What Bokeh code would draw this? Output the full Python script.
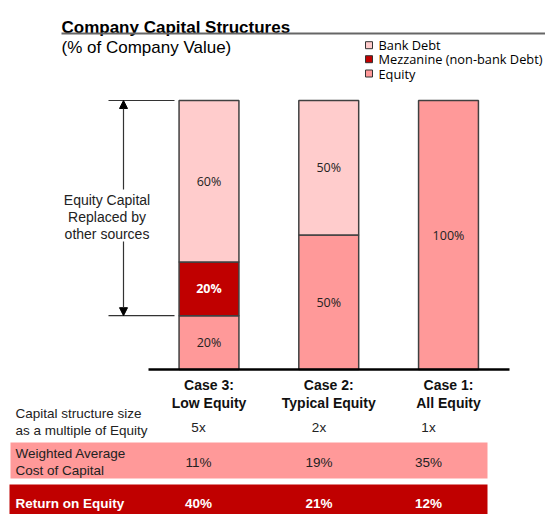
from bokeh.plotting import figure
from bokeh.models import Range1d, Arrow, NormalHead
from bokeh.core.properties import value
from bokeh.embed import file_html
from bokeh.resources import INLINE

# ---------------- data ----------------
cases = ["Case 3:\nLow Equity", "Case 2:\nTypical Equity", "Case 1:\nAll Equity"]
equity = [20, 50, 100]
mezzanine = [20, 0, 0]
bank_debt = [60, 50, 0]
series_names = ["Bank Debt", "Mezzanine (non-bank Debt)", "Equity"]
series_colors = ["#FFCCCC", "#C00000", "#FF9999"]
size_multiple = ["5x", "2x", "1x"]
wacc = ["11%", "19%", "35%"]
roe = ["40%", "21%", "12%"]
title = "Company Capital Structures"
subtitle = "(% of Company Value)"
annotation_lines = ["Equity Capital", "Replaced by", "other sources"]
row_labels_size = ["Capital structure size", "as a multiple of Equity"]
row_labels_wacc = ["Weighted Average", "Cost of Capital"]
row_label_roe = "Return on Equity"

# ---------------- geometry ----------------
W, H = 545, 514
OX, OY = 0, 0  # page origin of the figure
BASE_Y, TOP_Y = 369.0, 100.0
PX_PER_PCT = (BASE_Y - TOP_Y) / 100.0
X0, DX = 208.5, 119.75


def pct(img_y):
    return (BASE_Y - img_y) / PX_PER_PCT


def ux(img_x):
    return (img_x - X0) / DX


ARIAL = value("Liberation Sans")
CALIBRI = value("Open Sans")

p = figure(width=W, height=H,
           x_range=Range1d(ux(OX), ux(OX + W)), y_range=Range1d(pct(OY + H), pct(OY)),
           output_backend="svg", toolbar_location=None, min_border=0,
           outline_line_color=None, x_axis_location=None, y_axis_location=None,
           background_fill_color="white", border_fill_color="white")
p.grid.visible = False
p.extra_x_ranges = {"px": Range1d(OX, OX + W)}
p.extra_y_ranges = {"px": Range1d(OY + H, OY)}

PX = dict(x_range_name="px", y_range_name="px")

# ---------------- stacked bars ----------------
xs = list(range(len(cases)))
stack_order = [equity, mezzanine, bank_debt]
stack_colors = [series_colors[2], series_colors[1], series_colors[0]]
bottoms = [0] * len(cases)
for vals, col in zip(stack_order, stack_colors):
    bx, bb, bt, lx, ly, lt = [], [], [], [], [], []
    for i, v in enumerate(vals):
        if v > 0:
            bx.append(xs[i]); bb.append(bottoms[i]); bt.append(bottoms[i] + v)
            lx.append(xs[i]); ly.append(bottoms[i] + v / 2.0); lt.append(f"{v}%")
    p.vbar(x=bx, width=0.5, bottom=bb, top=bt, fill_color=col,
           line_color="#404040", line_width=1.5)
    is_mezz = col == series_colors[1]
    p.text(x=lx, y=ly, text=lt, text_align="center", text_baseline="middle",
           text_font=CALIBRI, text_font_size="12.5px",
           text_color="white" if is_mezz else "#222222",
           text_font_style="bold" if is_mezz else "normal")
    bottoms = [b + v for b, v in zip(bottoms, vals)]

# baseline
p.segment(x0=[148], y0=[0], x1=[509], y1=[0], x_range_name="px",
          line_color="black", line_width=2.5)

# category labels
line1 = [c.split("\n")[0] for c in cases]
line2 = [c.split("\n")[1] for c in cases]
p.text(x=xs, y=[pct(384)] * 3, text=line1, text_align="center", text_baseline="middle",
       text_font=ARIAL, text_font_size="14px", text_font_style="bold", text_color="#111111")
p.text(x=xs, y=[pct(402)] * 3, text=line2, text_align="center", text_baseline="middle",
       text_font=ARIAL, text_font_size="14px", text_font_style="bold", text_color="#111111")

# ---------------- left annotation ----------------
y_hi = bottoms[0]
y_lo = equity[0]
p.segment(x0=[108, 108], y0=[y_hi, y_lo], x1=[174, 174], y1=[y_hi, y_lo], x_range_name="px",
          line_color="#333333", line_width=1.2)
for ys, ye in [(pct(189), y_hi), (pct(241), y_lo)]:
    p.add_layout(Arrow(end=NormalHead(size=8, fill_color="black", line_color="black"),
                       x_start=123, y_start=ys, x_end=123, y_end=ye, x_range_name="px",
                       line_color="#333333", line_width=1.2))
p.text(x=[106.5] * 3, y=[199, 216, 233], text=annotation_lines, text_align="center",
       text_baseline="middle", text_font=ARIAL, text_font_size="14px", text_color="#222222", **PX)

# ---------------- title & legend ----------------
p.text(x=[61], y=[27], text=[title], text_align="left", text_baseline="alphabetic",
       text_font=ARIAL, text_font_size="17px", text_font_style="bold", text_color="black", **PX)
p.segment(x0=[61], y0=[33], x1=[545], y1=[33], line_color="#666666", line_width=2, **PX)
p.text(x=[61], y=[47], text=[subtitle], text_align="left", text_baseline="alphabetic",
       text_font=ARIAL, text_font_size="17px", text_color="black", **PX)

leg_y = [44.7, 58.7, 73]
p.rect(x=[368.5] * 3, y=leg_y, width=7, height=7, width_units="screen", height_units="screen",
       fill_color=series_colors, line_color="#333333", line_width=1, **PX)
p.text(x=[378] * 3, y=leg_y, text=series_names, text_align="left", text_baseline="middle",
       text_font=CALIBRI, text_font_size="12.8px", text_color="black", **PX)

# ---------------- table ----------------
col_x = [198, 318.5, 428]
p.text(x=[15, 15], y=[413, 430], text=row_labels_size, text_align="left", text_baseline="middle",
       text_font=ARIAL, text_font_size="13.5px", text_color="#222222", **PX)
p.text(x=col_x, y=[427] * 3, text=size_multiple, text_align="center", text_baseline="middle",
       text_font=ARIAL, text_font_size="13.5px", text_color="#222222", **PX)

p.quad(left=[10], right=[487], top=[442], bottom=[478], fill_color=series_colors[2],
       line_color=None, **PX)
p.text(x=[15, 15], y=[453, 470], text=row_labels_wacc, text_align="left", text_baseline="middle",
       text_font=ARIAL, text_font_size="13.5px", text_color="#222222", **PX)
p.text(x=col_x, y=[462] * 3, text=wacc, text_align="center", text_baseline="middle",
       text_font=ARIAL, text_font_size="13.5px", text_color="#222222", **PX)

p.quad(left=[9], right=[487], top=[484], bottom=[514], fill_color=series_colors[1],
       line_color=None, **PX)
p.text(x=[15], y=[503], text=[row_label_roe], text_align="left", text_baseline="middle",
       text_font=ARIAL, text_font_size="13.5px", text_font_style="bold", text_color="white", **PX)
p.text(x=col_x, y=[503] * 3, text=roe, text_align="center", text_baseline="middle",
       text_font=ARIAL, text_font_size="13.5px", text_font_style="bold", text_color="white", **PX)

open("out.html", "w").write(file_html(p, INLINE))
